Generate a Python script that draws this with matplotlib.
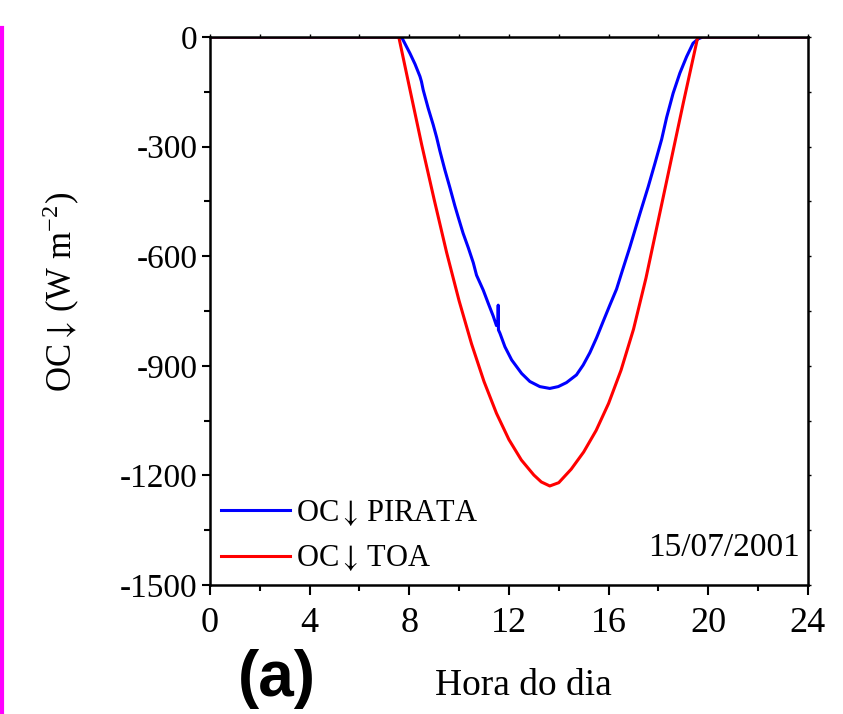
import matplotlib
matplotlib.use("Agg")
import matplotlib.pyplot as plt
from matplotlib.ticker import MultipleLocator

# hour of day / downward shortwave (W m-2)
hora_toa = [0.0, 7.58, 8.0, 8.5, 9.0, 9.5, 10.0, 10.5, 11.0, 11.5, 12.0, 12.5,
            13.0, 13.3, 13.64, 14.0, 14.5, 15.0, 15.5, 16.0, 16.5, 17.0, 17.5,
            18.0, 18.5, 19.0, 19.58, 24.0]
oc_toa = [0, 0, -135, -295, -445, -590, -722, -840, -943, -1030, -1102, -1158,
          -1199, -1218, -1229, -1220, -1183, -1136, -1077, -1003, -912, -800, -660,
          -500, -340, -180, 0, 0]

hora_pirata = [0.0, 7.69, 8.03, 8.23, 8.43, 8.49, 8.56, 8.76, 8.96, 9.10, 9.23,
               9.43, 9.63, 9.83, 9.96, 10.16, 10.37, 10.57, 10.70, 10.97, 11.17,
               11.37, 11.50, 11.56, 11.57, 11.58, 11.64, 11.84, 12.11, 12.51, 12.84,
               13.24, 13.64, 13.98, 14.31, 14.71, 14.98, 15.25, 15.52, 15.78, 16.05,
               16.32, 16.55, 16.85, 17.26, 17.59, 17.86, 18.13, 18.33, 18.59, 18.86,
               19.13, 19.39, 19.60, 19.78, 24.0]
oc_pirata = [0, 0, -45, -74, -108, -122, -145, -195, -240, -275, -312,
             -364, -412, -462, -492, -537, -577, -618, -652, -693, -729,
             -764, -790, -786, -734, -802, -811, -848, -884, -921, -943,
             -957, -962, -957, -946, -925, -898, -864, -823, -779, -734,
             -690, -640, -576, -483, -410, -346, -280, -220, -154, -99,
             -54, -17, -5, 0, 0]

plt.rcParams["font.family"] = ["Liberation Serif", "DejaVu Serif"]
plt.rcParams["mathtext.fontset"] = "stix"
plt.rcParams["axes.unicode_minus"] = False

fig = plt.figure(figsize=(8.43, 7.14), dpi=100)
ax = fig.add_axes([0.249, 0.1807, 0.7094, 0.7675])

ax.plot(hora_pirata, oc_pirata, color="#0000ff", lw=2.2, label=r"OC$\downarrow\,$PIRATA")
ax.plot(hora_toa, oc_toa, color="#ff0000", lw=2.2, label=r"OC$\downarrow\,$TOA")

ax.set_xlim(0, 24)
ax.set_ylim(-1500, 0)
ax.xaxis.set_major_locator(MultipleLocator(4))
ax.xaxis.set_minor_locator(MultipleLocator(2))
ax.yaxis.set_major_locator(MultipleLocator(300))
ax.yaxis.set_minor_locator(MultipleLocator(150))

for s in ax.spines.values():
    s.set_linewidth(1.8)

ax.tick_params(axis="x", which="major", direction="out", length=7, width=1.5,
               labelsize=26, pad=9)
ax.tick_params(axis="x", which="minor", direction="out", length=4, width=1.5)
ax.tick_params(axis="y", which="major", direction="out", length=6, width=1.5,
               labelsize=24, pad=3)
ax.tick_params(axis="y", which="minor", direction="out", length=4, width=1.5)
ax.tick_params(which="both", top=True, right=True, labeltop=False, labelright=False)

# mirrored ticks on top/right are only tiny marks
for tk in (ax.xaxis.get_major_ticks() + ax.xaxis.get_minor_ticks()
           + ax.yaxis.get_major_ticks() + ax.yaxis.get_minor_ticks()):
    tk.tick2line.set_markersize(2.5)
    tk.tick2line.set_markeredgewidth(1.0)
    tk.tick2line.set_color("0.45")

ax.set_ylabel(r"OC$\downarrow\,$(W m$^{\mathregular{-2}}$)", fontsize=25)
ax.yaxis.set_label_coords(-0.215, 0.535)
ax.set_xlabel("Hora do dia", fontsize=27)
ax.xaxis.set_label_coords(0.525, -0.153)

ax.legend(loc="lower left", bbox_to_anchor=(-0.012, -0.012), frameon=False,
          fontsize=22, handlelength=2.25, handletextpad=0.2,
          labelspacing=0.5, borderaxespad=0.2)

ax.text(0.987, 0.068, "15/07/2001", transform=ax.transAxes, ha="right",
        va="center", fontsize=24)

fig.text(277 / 843, 1 - 679 / 714, "(a)", ha="center", va="center",
         fontsize=46, fontweight="bold", family=["Liberation Sans", "DejaVu Sans"])

# magenta bar on the left edge of the panel
fig.add_artist(plt.Line2D([0.002, 0.002], [0.0, 1 - 28 / 714],
                          transform=fig.transFigure, color="#ff00ff", lw=3))

fig.savefig("out.png", dpi=100)
